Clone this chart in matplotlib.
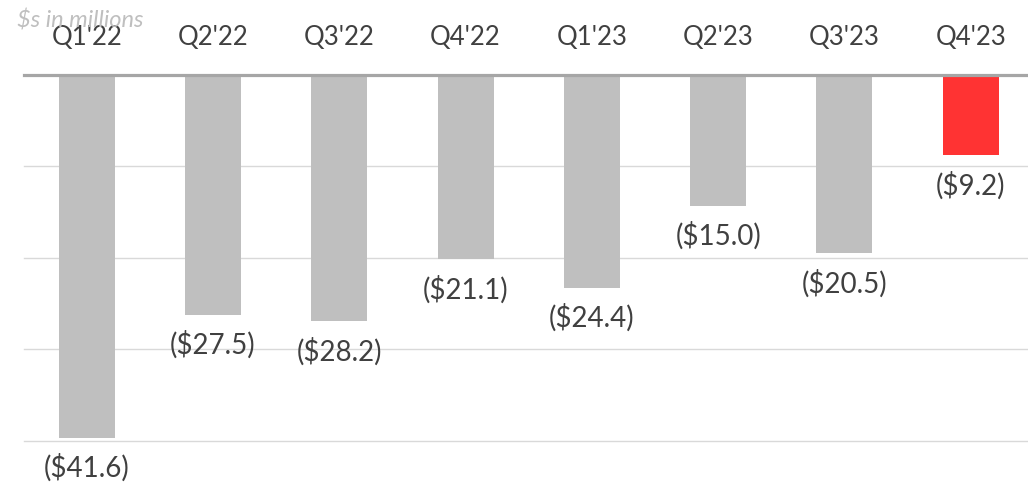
import matplotlib
matplotlib.use("Agg")
import matplotlib.pyplot as plt

categories = ["Q1'22", "Q2'22", "Q3'22", "Q4'22", "Q1'23", "Q2'23", "Q3'23", "Q4'23"]
values = [-41.6, -27.5, -28.2, -21.1, -24.4, -15.0, -20.5, -9.2]
labels = ["($41.6)", "($27.5)", "($28.2)", "($21.1)", "($24.4)", "($15.0)", "($20.5)", "($9.2)"]
bar_colors = ["#BFBFBF"] * 7 + ["#FF3333"]
gridlines = [-10.5, -21.0, -31.5, -42.0]

W, H = 1028, 483
fig = plt.figure(figsize=(W / 100, H / 100), dpi=100)
left = 23.5 / W
top = 1 - 74.7 / H
bottom = 1 - 441 / H
ax = fig.add_axes([left, bottom, 1 - left, top - bottom])
ax.set_xlim(-0.5, -0.5 + (W - 23.5) / 126.3)
ax.set_ylim(-42, 0)
for s in ax.spines.values():
    s.set_visible(False)
ax.set_xticks([])
ax.set_yticks([])

for g in gridlines:
    ax.axhline(g, color="#D9D9D9", lw=1.0, zorder=1, clip_on=False)

ax.bar(range(len(values)), values, width=0.443, color=bar_colors, zorder=2)
ax.axhline(0, color="#A6A6A6", lw=2.3, zorder=3, clip_on=False)

font = "Lato"
txtcol = "#404040"
for i, (v, lab) in enumerate(zip(values, labels)):
    ax.annotate(lab, xy=(i, v), xytext=(0, -22), textcoords="offset points",
                ha="center", va="center", fontsize=20, color=txtcol,
                family=font, annotation_clip=False)
    ax.annotate(categories[i], xy=(i, 1), xycoords=("data", "axes fraction"),
                xytext=(0, 27), textcoords="offset points",
                ha="center", va="center", fontsize=18.5, color=txtcol,
                family=font, annotation_clip=False)

fig.text(17 / W, 1 - 20 / H, "$s in millions", ha="left", va="center",
         fontsize=17, style="italic", color="#BFBFBF", family=font)

fig.savefig("out.png", dpi=100)
